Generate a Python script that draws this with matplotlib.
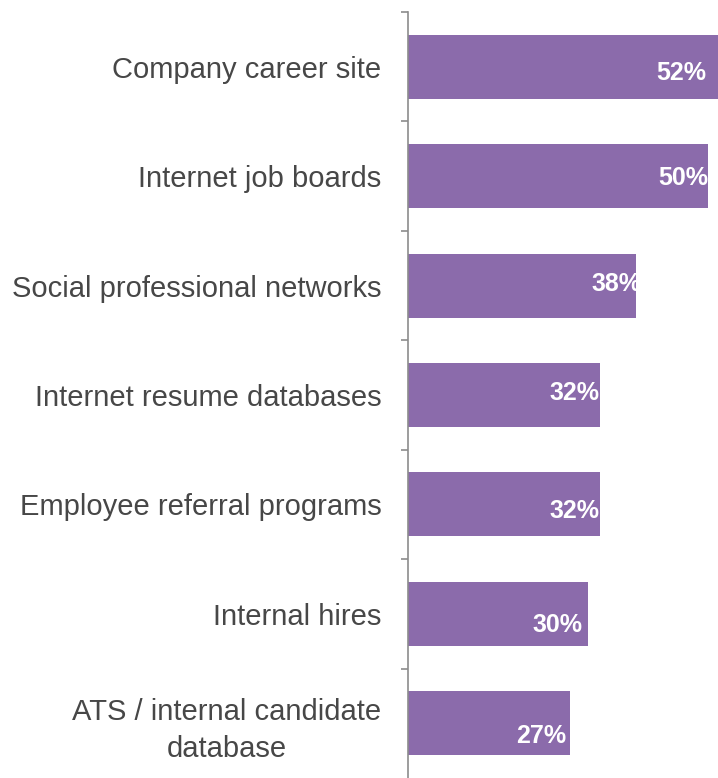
import matplotlib.pyplot as plt

plt.rcParams['font.family'] = ['Liberation Sans', 'DejaVu Sans']

categories = [
    'Company career site',
    'Internet job boards',
    'Social professional networks',
    'Internet resume databases',
    'Employee referral programs',
    'Internal hires',
    'ATS / internal candidate\ndatabase',
]
shares = [52, 50, 38, 32, 32, 30, 27]

# label nudges in pixels (x from bar end, y downward from bar centre)
label_dx = [-14, 0, 5, -1, -1, -6, -4]
label_dy = [6, 2, -2, -2, 7, 11, 13]

BAR_COLOR = '#8b6bab'
AXIS_COLOR = '#8c8c8c'
TEXT_COLOR = '#474747'

fig = plt.figure(figsize=(7.18, 7.78), dpi=100)
ax = fig.add_axes([408 / 718, 0.0, 1 - 408 / 718, 1 - 12 / 778])

pos = list(range(len(categories)))
bars = ax.barh(pos, shares, height=0.585, color=BAR_COLOR)

ax.set_ylim(len(categories) - 0.5, -0.5)
ax.set_xlim(0, 310 / 6)

ax.set_yticks(pos)
ax.set_yticklabels(categories, fontsize=21, color=TEXT_COLOR,
                   multialignment='center', linespacing=1.4)
ax.set_yticks([p - 0.5 for p in pos], minor=True)
ax.tick_params(axis='y', which='major', length=0, pad=19)
ax.tick_params(axis='y', which='minor', length=5, width=1.2,
               color=AXIS_COLOR, direction='out')
ax.set_xticks([])

for side in ['top', 'right', 'bottom']:
    ax.spines[side].set_visible(False)
ax.spines['left'].set_color(AXIS_COLOR)
ax.spines['left'].set_linewidth(1.2)

px = 72 / fig.dpi
for bar, val, dx, dy in zip(bars, shares, label_dx, label_dy):
    t = ax.annotate(f'{val}%',
                    xy=(val, bar.get_y() + bar.get_height() / 2),
                    xytext=(dx * px, -dy * px),
                    textcoords='offset points',
                    ha='right', va='center', annotation_clip=False,
                    fontsize=18, fontweight='bold', color='white')
    t.set_clip_path(bar)

fig.savefig('out.png', dpi=100)
